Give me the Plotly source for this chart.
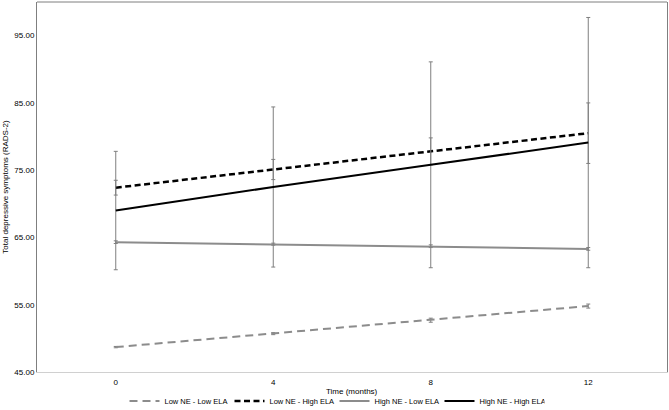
import plotly.graph_objects as go

months = [0, 4, 8, 12]
tick_labels = ["0", "4", "8", "12"]

low_ne_low_ela = [48.7, 50.7, 52.7, 54.8]
low_ne_low_ela_err = [0.1, 0.15, 0.3, 0.3]

low_ne_high_ela = [72.4, 75.1, 77.8, 80.5]
low_ne_high_ela_err = [1.1, 1.5, 2.0, 4.5]

high_ne_low_ela = [64.3, 64.0, 63.7, 63.3]
high_ne_low_ela_err = [0.2, 0.15, 0.2, 0.2]

high_ne_high_ela = [69.0, 72.5, 75.8, 79.1]
high_ne_high_ela_err = [8.8, 11.9, 15.3, 18.6]

y_ticks = [45, 55, 65, 75, 85, 95]

err_color = "#7f7f7f"
gray = "#8c8c8c"

def eb(vals):
    return dict(type="data", array=vals, visible=True, color=err_color,
                thickness=1, width=2)

fig = go.Figure()
fig.add_trace(go.Scatter(x=months, y=low_ne_low_ela, mode="lines",
                         name="Low NE - Low ELA",
                         line=dict(color=gray, width=2, dash="8px,5px"),
                         error_y=eb(low_ne_low_ela_err)))
fig.add_trace(go.Scatter(x=months, y=low_ne_high_ela, mode="lines",
                         name="Low NE - High ELA",
                         line=dict(color="#000000", width=2.5, dash="6px,3.5px"),
                         error_y=eb(low_ne_high_ela_err)))
fig.add_trace(go.Scatter(x=months, y=high_ne_low_ela, mode="lines",
                         name="High NE - Low ELA",
                         line=dict(color=gray, width=2),
                         error_y=eb(high_ne_low_ela_err)))
fig.add_trace(go.Scatter(x=months, y=high_ne_high_ela, mode="lines",
                         name="High NE - High ELA",
                         line=dict(color="#000000", width=2),
                         error_y=eb(high_ne_high_ela_err)))

font = "Liberation Sans, Arial, sans-serif"

fig.update_layout(
    width=669, height=410,
    margin=dict(l=37, r=2, t=2, b=38, autoexpand=False),
    paper_bgcolor="white", plot_bgcolor="white",
    font=dict(family=font, size=8, color="#000000"),
    showlegend=True,
    legend=dict(orientation="h", xref="container", x=0.5, xanchor="center",
                yref="container", y=0.022, yanchor="middle",
                font=dict(size=7.5, family=font),
                itemwidth=30, entrywidth=60, tracegroupgap=0,
                bgcolor="rgba(0,0,0,0)"),
    xaxis=dict(range=[-2, 14], tickvals=months, ticktext=tick_labels,
               showgrid=False, zeroline=False, showline=True,
               linecolor="#d0d0d0", linewidth=1, ticks="",
               tickfont=dict(size=8), automargin=False, ticklabelstandoff=2),
    yaxis=dict(range=[45, 100], tickvals=y_ticks, tickformat=".2f",
               showgrid=False, zeroline=False, showline=True,
               linecolor="#7f7f7f", linewidth=1, mirror=True, ticks="",
               tickfont=dict(size=8), automargin=False,
               title=dict(text="Total depressive symptoms (RADS-2)",
                          font=dict(size=8), standoff=4)),
    annotations=[dict(text="Time (months)", xref="paper", yref="paper",
                      x=0.5, y=-0.054, xanchor="center", yanchor="middle",
                      showarrow=False, font=dict(size=8, family=font))],
    shapes=[dict(type="line", xref="paper", yref="paper", x0=0, x1=1,
                 y0=1, y1=1, line=dict(color="#7f7f7f", width=1))],
)

fig.write_html("out.html")
